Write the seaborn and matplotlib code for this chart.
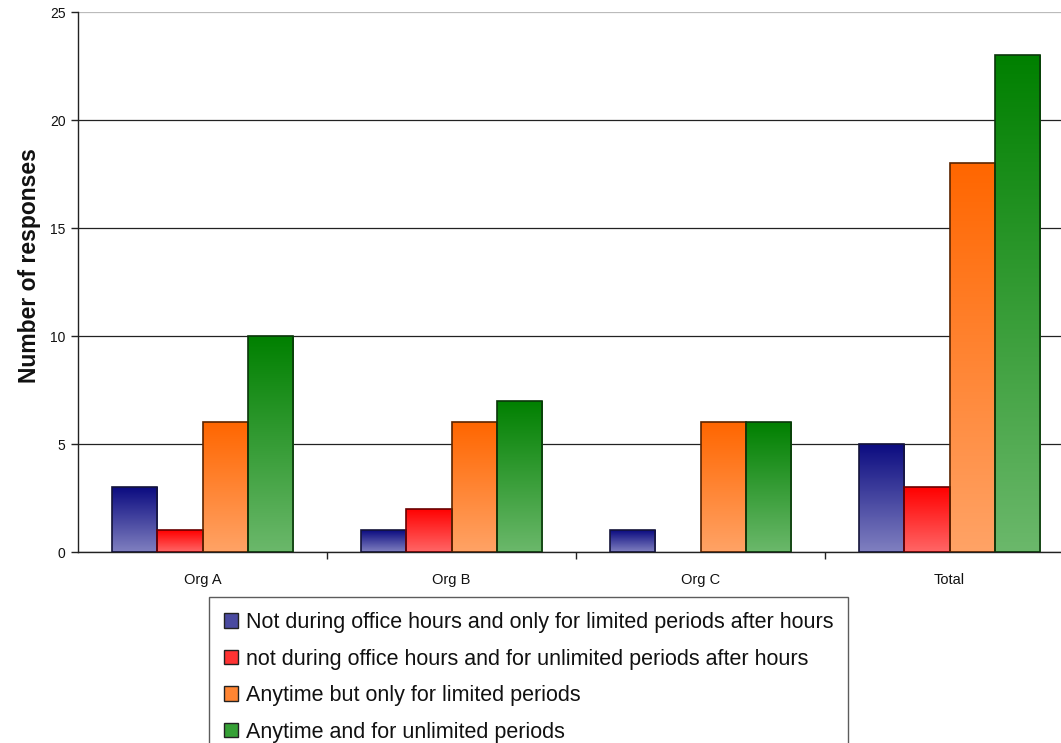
import numpy as np
import pandas as pd
import matplotlib
matplotlib.use("Agg")
import matplotlib.pyplot as plt
from matplotlib.colors import LinearSegmentedColormap
from matplotlib.patches import Patch
import seaborn as sns

# Survey data: number of responses per organisation and availability option
groups = ["Org A", "Org B", "Org C", "Total"]
series = [
    "Not during office hours and only for limited periods after hours",
    "not during office hours and for unlimited periods after hours",
    "Anytime but only for limited periods",
    "Anytime and for unlimited periods",
]
limited_after_hours = [3, 1, 1, 5]
unlimited_after_hours = [1, 2, 0, 3]
anytime_limited = [6, 6, 6, 18]
anytime_unlimited = [10, 7, 6, 23]
y_ticks = [0, 5, 10, 15, 20, 25]

# Vertical gradient fills (top -> bottom) and outline colours per series
top_colors = ["#0b0b80", "#ff0000", "#ff6600", "#008000"]
bottom_colors = ["#8080c0", "#ff6666", "#ffa366", "#6bb86b"]
edge_colors = ["#14143a", "#6a0000", "#5a2400", "#0a360a"]

df = pd.DataFrame({
    "group": groups * len(series),
    "series": np.repeat(series, len(groups)),
    "count": limited_after_hours + unlimited_after_hours + anytime_limited + anytime_unlimited,
})

sns.set_theme(style="white")
plt.rcParams["font.family"] = ["Liberation Sans", "DejaVu Sans"]

W, H = 1061, 743
fig = plt.figure(figsize=(W / 100, H / 100), dpi=100)
fig.patch.set_facecolor("white")
ax = fig.add_axes([78 / W, 1 - 552 / H, 996 / W, 540 / H])

sns.barplot(
    data=df, x="group", y="count", hue="series",
    order=groups, hue_order=series,
    palette=dict(zip(series, top_colors)),
    width=0.727, saturation=1, errorbar=None, legend=False, ax=ax,
)

# Replace flat fills by a vertical gradient clipped to each bar
for i, container in enumerate(ax.containers):
    cmap = LinearSegmentedColormap.from_list(f"grad{i}", [bottom_colors[i], top_colors[i]])
    grad = np.linspace(0, 1, 256).reshape(-1, 1)
    for bar in container:
        x, w, h = bar.get_x(), bar.get_width(), bar.get_height()
        if h <= 0:
            bar.set_visible(False)
            continue
        im = ax.imshow(grad, cmap=cmap, origin="lower", aspect="auto",
                       extent=[x, x + w, 0, h], zorder=2, interpolation="bilinear")
        im.set_clip_path(bar)
        bar.set_facecolor("none")
        bar.set_edgecolor(edge_colors[i])
        bar.set_linewidth(1.2)
        bar.set_zorder(3)

ax.set_xlim(-0.5, 3.5)
ax.set_ylim(0, 25)
ax.set_yticks(y_ticks)
ax.yaxis.grid(True, color="#222222", linewidth=0.9)
ax.xaxis.grid(False)
ax.set_axisbelow(True)
ax.get_ygridlines()[-1].set_color("#bbbbbb")

for side in ["top", "right"]:
    ax.spines[side].set_visible(False)
for side in ["left", "bottom"]:
    ax.spines[side].set_color("#222222")
    ax.spines[side].set_linewidth(1.0)

ax.tick_params(axis="y", which="major", left=True, length=5, width=1,
               color="#222222", labelsize=10, pad=4, labelcolor="#111111")
ax.tick_params(axis="x", which="major", bottom=False, labelsize=10.5,
               pad=9, labelcolor="#111111")
ax.set_xticks([0.5, 1.5, 2.5], minor=True)
ax.tick_params(axis="x", which="minor", bottom=True, length=5, width=1, color="#222222")

ax.set_xlabel("")
ax.set_ylabel("")
fig.text(30 / W, 1 - 266 / H, "Number of responses", rotation=90,
         ha="center", va="center", fontsize=16.5, fontweight="bold", color="#111111")

handles = [Patch(facecolor=c, edgecolor="#222222", linewidth=1.0) for c in
           ["#4a4aa0", "#ff3333", "#ff8533", "#35a035"]]
leg = fig.legend(handles, series, loc="upper left",
                 bbox_to_anchor=(209 / W, 1 - 597 / H),
                 fontsize=15.5, frameon=True, fancybox=False, borderpad=0.7,
                 handlelength=0.65, handleheight=0.65, handletextpad=0.35,
                 labelspacing=0.72, borderaxespad=0)
leg.get_frame().set_edgecolor("#333333")
leg.get_frame().set_linewidth(1.0)
for t in leg.get_texts():
    t.set_color("#111111")

fig.savefig("out.png", dpi=100, facecolor="white")
